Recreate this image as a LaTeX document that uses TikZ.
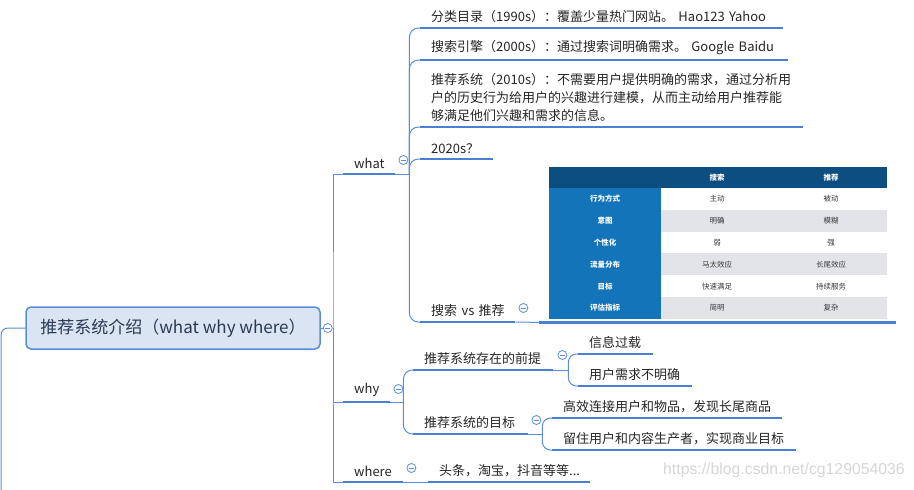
\documentclass[tikz,border=0pt]{standalone}
\usepackage{fontspec}
\newfontfamily\cjk{Noto Sans CJK SC}
\newfontfamily\markfont{Liberation Sans}
\usepackage{tikz}
\usetikzlibrary{positioning,calc}
\definecolor{mindBlue}{HTML}{5B8ED8}
\definecolor{mindLine}{HTML}{4A80D2}
\definecolor{mindFill}{HTML}{DAE4F2}
\definecolor{mindInk}{HTML}{262626}
\definecolor{mindTitle}{HTML}{2A3A55}
\definecolor{tabHead}{HTML}{0C4E80}
\definecolor{tabSide}{HTML}{1474BA}
\definecolor{tabGray}{HTML}{E3E4E9}
\definecolor{tabInk}{HTML}{3A3A3A}
\definecolor{markGray}{HTML}{D6D6D6}

\begin{document}
\begin{tikzpicture}[
  x=1pt,
  y=-1pt,
  root/.style={rounded corners=5pt, draw=mindBlue, fill=mindFill, line width=1.5pt,
    minimum width=294pt, minimum height=42pt, font=\cjk\fontsize{17}{20}\selectfont, text=mindTitle},
  topic/.style={anchor=south west, inner xsep=11pt, inner ysep=5pt, align=left,
    font=\cjk\fontsize{13}{18}\selectfont, text=mindInk},
  uline/.style={line width=2.4pt, draw=mindLine},
  conn/.style={line width=1pt, draw=mindBlue},
  fold/.style={circle, draw=mindBlue, fill=white, line width=0.8pt, minimum size=9pt, inner sep=0pt,
    path picture={\draw[mindBlue, line width=0.8pt] ([xshift=-2.3pt]path picture bounding box.center)
      -- ([xshift=2.3pt]path picture bounding box.center);}},
  tabframe/.style={anchor=north west, minimum width=338pt, minimum height=152pt, inner sep=0pt, fill=white},
  tabcell/.style={inner sep=0pt, font=\cjk\fontsize{7.5}{9}\selectfont, text=tabInk},
  sidecell/.style={inner sep=0pt, font=\cjk\bfseries\fontsize{7.5}{9}\selectfont, text=white},
  wmark/.style={anchor=west, inner sep=0pt, font=\markfont\fontsize{15.8}{18}\selectfont, text=markGray}
]
\path[use as bounding box, fill=white] (0,0) rectangle (914,490);

\node[root] (root) at (173,328) {推荐系统介绍（what why where）};
\coordinate (trunk) at (333,328);
\coordinate (up) at (1,490);

\node[topic, text width=30pt] (what) at (343,174) {what};
\node[topic, text width=25pt] (why) at (343,402) {why};
\node[topic, text width=38pt] (where) at (343,482) {where};

\node[topic, text width=341pt] (catalog) at (420,28) {分类目录（1990s）：覆盖少量热门网站。 Hao123 Yahoo};
\node[topic, text width=346pt] (engine) at (420,60) {搜索引擎（2000s）：通过搜索词明确需求。 Google Baidu};
\node[topic, text width=361pt] (recsys) at (420,127) {推荐系统（2010s）：不需要用户提供明确的需求，通过分析用\\户的历史行为给用户的兴趣进行建模，从而主动给用户推荐能\\够满足他们兴趣和需求的信息。};
\node[topic, text width=51pt] (future) at (420,159) {2020s？};
\node[topic, text width=73pt] (versus) at (420,322) {搜索~vs~推荐};

\node[topic, text width=118pt] (premise) at (413,370) {推荐系统存在的前提};
\node[topic, text width=93pt] (goal) at (413,434) {推荐系统的目标};
\node[topic, text width=53pt] (overload) at (578,354) {信息过载};
\node[topic, text width=92pt] (unclear) at (578,386) {用户需求不明确};
\node[topic, text width=208pt] (linkup) at (552,418) {高效连接用户和物品，发现长尾商品};
\node[topic, text width=222pt] (retain) at (552,450) {留住用户和内容生产者，实现商业目标};
\node[topic, text width=140pt] (apps) at (428,482) {头条，淘宝，抖音等等...};

\node[tabframe] (cmp) at (549,167) {};
\fill[tabHead] (cmp.north west) rectangle ($(cmp.north east)+(0,21)$);
\fill[tabSide] ($(cmp.north west)+(0,21)$) rectangle ($(cmp.south west)+(112,0)$);
\node[sidecell] (hsou) at ($(cmp.north west)+(168,10.5)$) {搜索};
\node[sidecell] (htui) at ($(cmp.north west)+(282,10.5)$) {推荐};
\foreach \lab/\a/\b/\bg [count=\i] in {行为方式/主动/被动/white, 意图/明确/模糊/tabGray,
    个性化/弱/强/white, 流量分布/马太效应/长尾效应/tabGray, 目标/快速满足/持续服务/white,
    评估指标/简明/复杂/tabGray}{
  \fill[\bg] ($(cmp.north west)+(112,{21+(\i-1)*21.83})$) rectangle ++(226,21.83);
  \node[sidecell] (row\i) at ($(cmp.north west)+(56,{21+(\i-0.5)*21.83})$) {\lab};
  \node[tabcell] (sou\i) at ($(cmp.north west)+(168,{21+(\i-0.5)*21.83})$) {\a};
  \node[tabcell] (tui\i) at ($(cmp.north west)+(282,{21+(\i-0.5)*21.83})$) {\b};
}
\coordinate (cmpline) at ($(cmp.south west)+(-10,3)$);

\foreach \n in {what,why,where,catalog,engine,recsys,future,versus,premise,goal,overload,unclear,linkup,retain,apps}
  \draw[uline] (\n.south west) -- (\n.south east);
\draw[uline] (cmpline) -- ($(cmp.south east)+(9,3)$);

\coordinate (jwhat) at ($(what.south east)+(14,0)$);
\coordinate (jwhy) at ($(why.south east)+(13,0)$);
\coordinate (jpre) at ($(premise.south east)+(15,0)$);
\coordinate (jgoal) at ($(goal.south east)+(14,0)$);

\draw[conn, rounded corners=7pt] (root.west) -| (up);
\draw[conn] (what.south west) -| (trunk) |- (where.south west);
\draw[conn] (trunk) |- (why.south west);
\draw[conn] (what.south east) -- (jwhat);
\foreach \c in {catalog,engine,recsys,future,versus}
  \draw[conn, rounded corners=9pt] (jwhat) |- (\c.south west);
\draw[conn] (versus.south east) -- (cmpline);
\draw[conn] (why.south east) -- (jwhy);
\foreach \c in {premise,goal}
  \draw[conn, rounded corners=9pt] (jwhy) |- (\c.south west);
\draw[conn] (premise.south east) -- (jpre);
\foreach \c in {overload,unclear}
  \draw[conn, rounded corners=8pt] (jpre) |- (\c.south west);
\draw[conn] (goal.south east) -- (jgoal);
\foreach \c in {linkup,retain}
  \draw[conn, rounded corners=8pt] (jgoal) |- (\c.south west);
\draw[conn] (where.south east) -- (apps.south west);

\node[fold] (froot) at ($(root.east)+(7,0)$) {};
\draw[conn] (root.east) -- (froot.west);
\draw[conn] (froot.east) -- (trunk);
\node[fold] (fwhat) at ($(what.south east)+(8,-14)$) {};
\node[fold] (fwhy) at ($(why.south east)+(8,-13)$) {};
\node[fold] (fwhere) at ($(where.south east)+(8,-14)$) {};
\node[fold] (fversus) at ($(versus.south east)+(8,-14)$) {};
\node[fold] (fpremise) at ($(premise.south east)+(9,-15)$) {};
\node[fold] (fgoal) at ($(goal.south east)+(8,-14)$) {};

\node[wmark] (mark) at (663,470) {https://blog.csdn.net/cg129054036};
\end{tikzpicture}
\end{document}
